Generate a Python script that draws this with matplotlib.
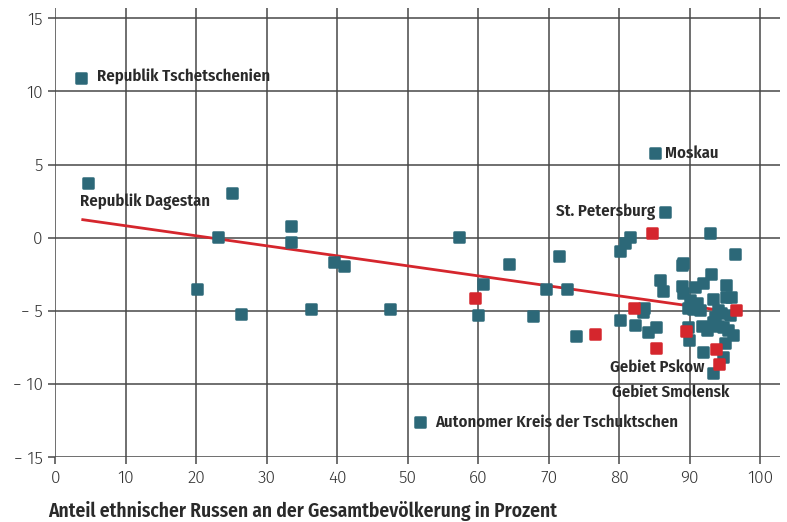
import matplotlib
matplotlib.use("Agg")
import matplotlib.pyplot as plt
from matplotlib.markers import MarkerStyle

# ---------------- data ----------------
blue_x = [3.7, 4.7, 25.0, 23.1, 33.4, 33.5, 20.1, 26.4, 36.3, 39.5, 41.0, 47.5,
          51.7, 57.3, 60.7, 60.0, 64.3, 67.7, 69.6, 71.5, 72.6, 73.8, 85.0, 86.5,
          92.9, 96.4, 81.5, 80.8, 80.1, 85.8, 86.2, 88.9, 89.1, 88.9, 89.1, 90.7,
          91.9, 93.0, 95.1, 95.2, 95.9, 93.3, 90.0, 91.0, 89.8, 91.4, 90.5, 94.0,
          94.5, 93.6, 95.7, 83.5, 83.4, 80.1, 82.2, 85.2, 84.1, 89.8, 89.9, 91.7,
          92.4, 93.3, 94.0, 94.7, 95.4, 96.2, 95.0, 91.9, 94.7, 93.3]
blue_y = [10.95, 3.72, 3.08, 0.03, 0.82, -0.27, -3.5, -5.2, -4.88, -1.67, -1.9, -4.85,
          -12.6, 0.03, -3.19, -5.28, -1.82, -5.33, -3.53, -1.23, -3.53, -6.7, 5.79, 1.76,
          0.34, -1.11, 0.07, -0.34, -0.91, -2.89, -3.64, -1.87, -1.7, -3.3, -3.8, -3.35,
          -3.1, -2.5, -3.2, -4.03, -4.07, -4.2, -4.26, -4.48, -4.83, -4.94, -4.9, -4.94,
          -5.17, -5.4, -5.28, -4.83, -5.06, -5.63, -5.97, -6.08, -6.42, -6.1, -7.0, -6.04,
          -6.31, -5.74, -6.04, -6.08, -6.31, -6.65, -7.22, -7.79, -8.13, -9.27]
red_x = [59.6, 76.5, 84.6, 82.1, 96.6, 89.5, 93.7, 94.2, 85.2]
red_y = [-4.1, -6.6, 0.34, -4.83, -4.94, -6.36, -7.63, -8.63, -7.56]

trend_x = [3.7, 96.6]
trend_y = [1.25, -5.11]

labels = ["Republik Tschetschenien", "Republik Dagestan", "Moskau", "St. Petersburg",
          "Gebiet Pskow", "Gebiet Smolensk", "Autonomer Kreis der Tschuktschen"]
label_x = [5.9, 3.5, 86.5, 85.1, 78.7, 79.0, 53.9]
label_y = [10.97, 2.44, 5.79, 1.76, -8.83, -10.55, -12.6]
label_ha = ["left", "left", "left", "right", "left", "left", "left"]

x_ticks = [0, 10, 20, 30, 40, 50, 60, 70, 80, 90, 100]
y_ticks = [-15, -10, -5, 0, 5, 10, 15]
x_label = "Anteil ethnischer Russen an der Gesamtbevölkerung in Prozent"

# ---------------- style ----------------
COND = ["Fira Sans Condensed", "DejaVu Sans"]
LIGHT = ["Fira Sans", "DejaVu Sans"]
BLUE = "#2c6878"
RED = "#d5262d"
GRID = "#484848"
TXT = "#2a2a2a"

fig = plt.figure(figsize=(7.87, 5.22), dpi=100)
ax = fig.add_axes([55.3 / 787, 1 - 457.3 / 522, (780 - 55.3) / 787, (457.3 - 8) / 522])
ax.set_xlim(0, 102.8)
ax.set_ylim(-15, 15.7)

for s in ax.spines.values():
    s.set_visible(False)

ax.set_xticks(x_ticks)
ax.set_yticks(y_ticks)
ax.set_yticklabels([("\u2212 " + str(abs(v))) if v < 0 else str(v) for v in y_ticks])
ax.grid(True, color=GRID, lw=1.1)
ax.set_axisbelow(True)
ax.tick_params(length=5, width=1.1, color=GRID, labelsize=12.5, labelcolor="#333333", pad=4)
for lab in ax.get_xticklabels() + ax.get_yticklabels():
    lab.set_fontfamily(LIGHT)
    lab.set_fontweight(300)

ax.plot(trend_x, trend_y, color=RED, lw=2, zorder=3, solid_capstyle="butt")

mk = MarkerStyle("s", joinstyle="round")
ax.plot(blue_x, blue_y, ls="none", marker=mk, ms=7.2, mfc=BLUE, mec=BLUE, mew=1.8, zorder=4)
ax.plot(red_x, red_y, ls="none", marker=mk, ms=7.2, mfc=RED, mec=RED, mew=1.8, zorder=5)

for t, x, y, ha in zip(labels, label_x, label_y, label_ha):
    ax.text(x, y, t, ha=ha, va="center", fontsize=12, fontweight=600,
            family=COND, color=TXT, zorder=6)

fig.text(48 / 787, 1 - 511 / 522, x_label, ha="left", va="center", fontsize=14,
         fontweight=600, family=COND, color=TXT)

fig.savefig("out.png", dpi=100)
